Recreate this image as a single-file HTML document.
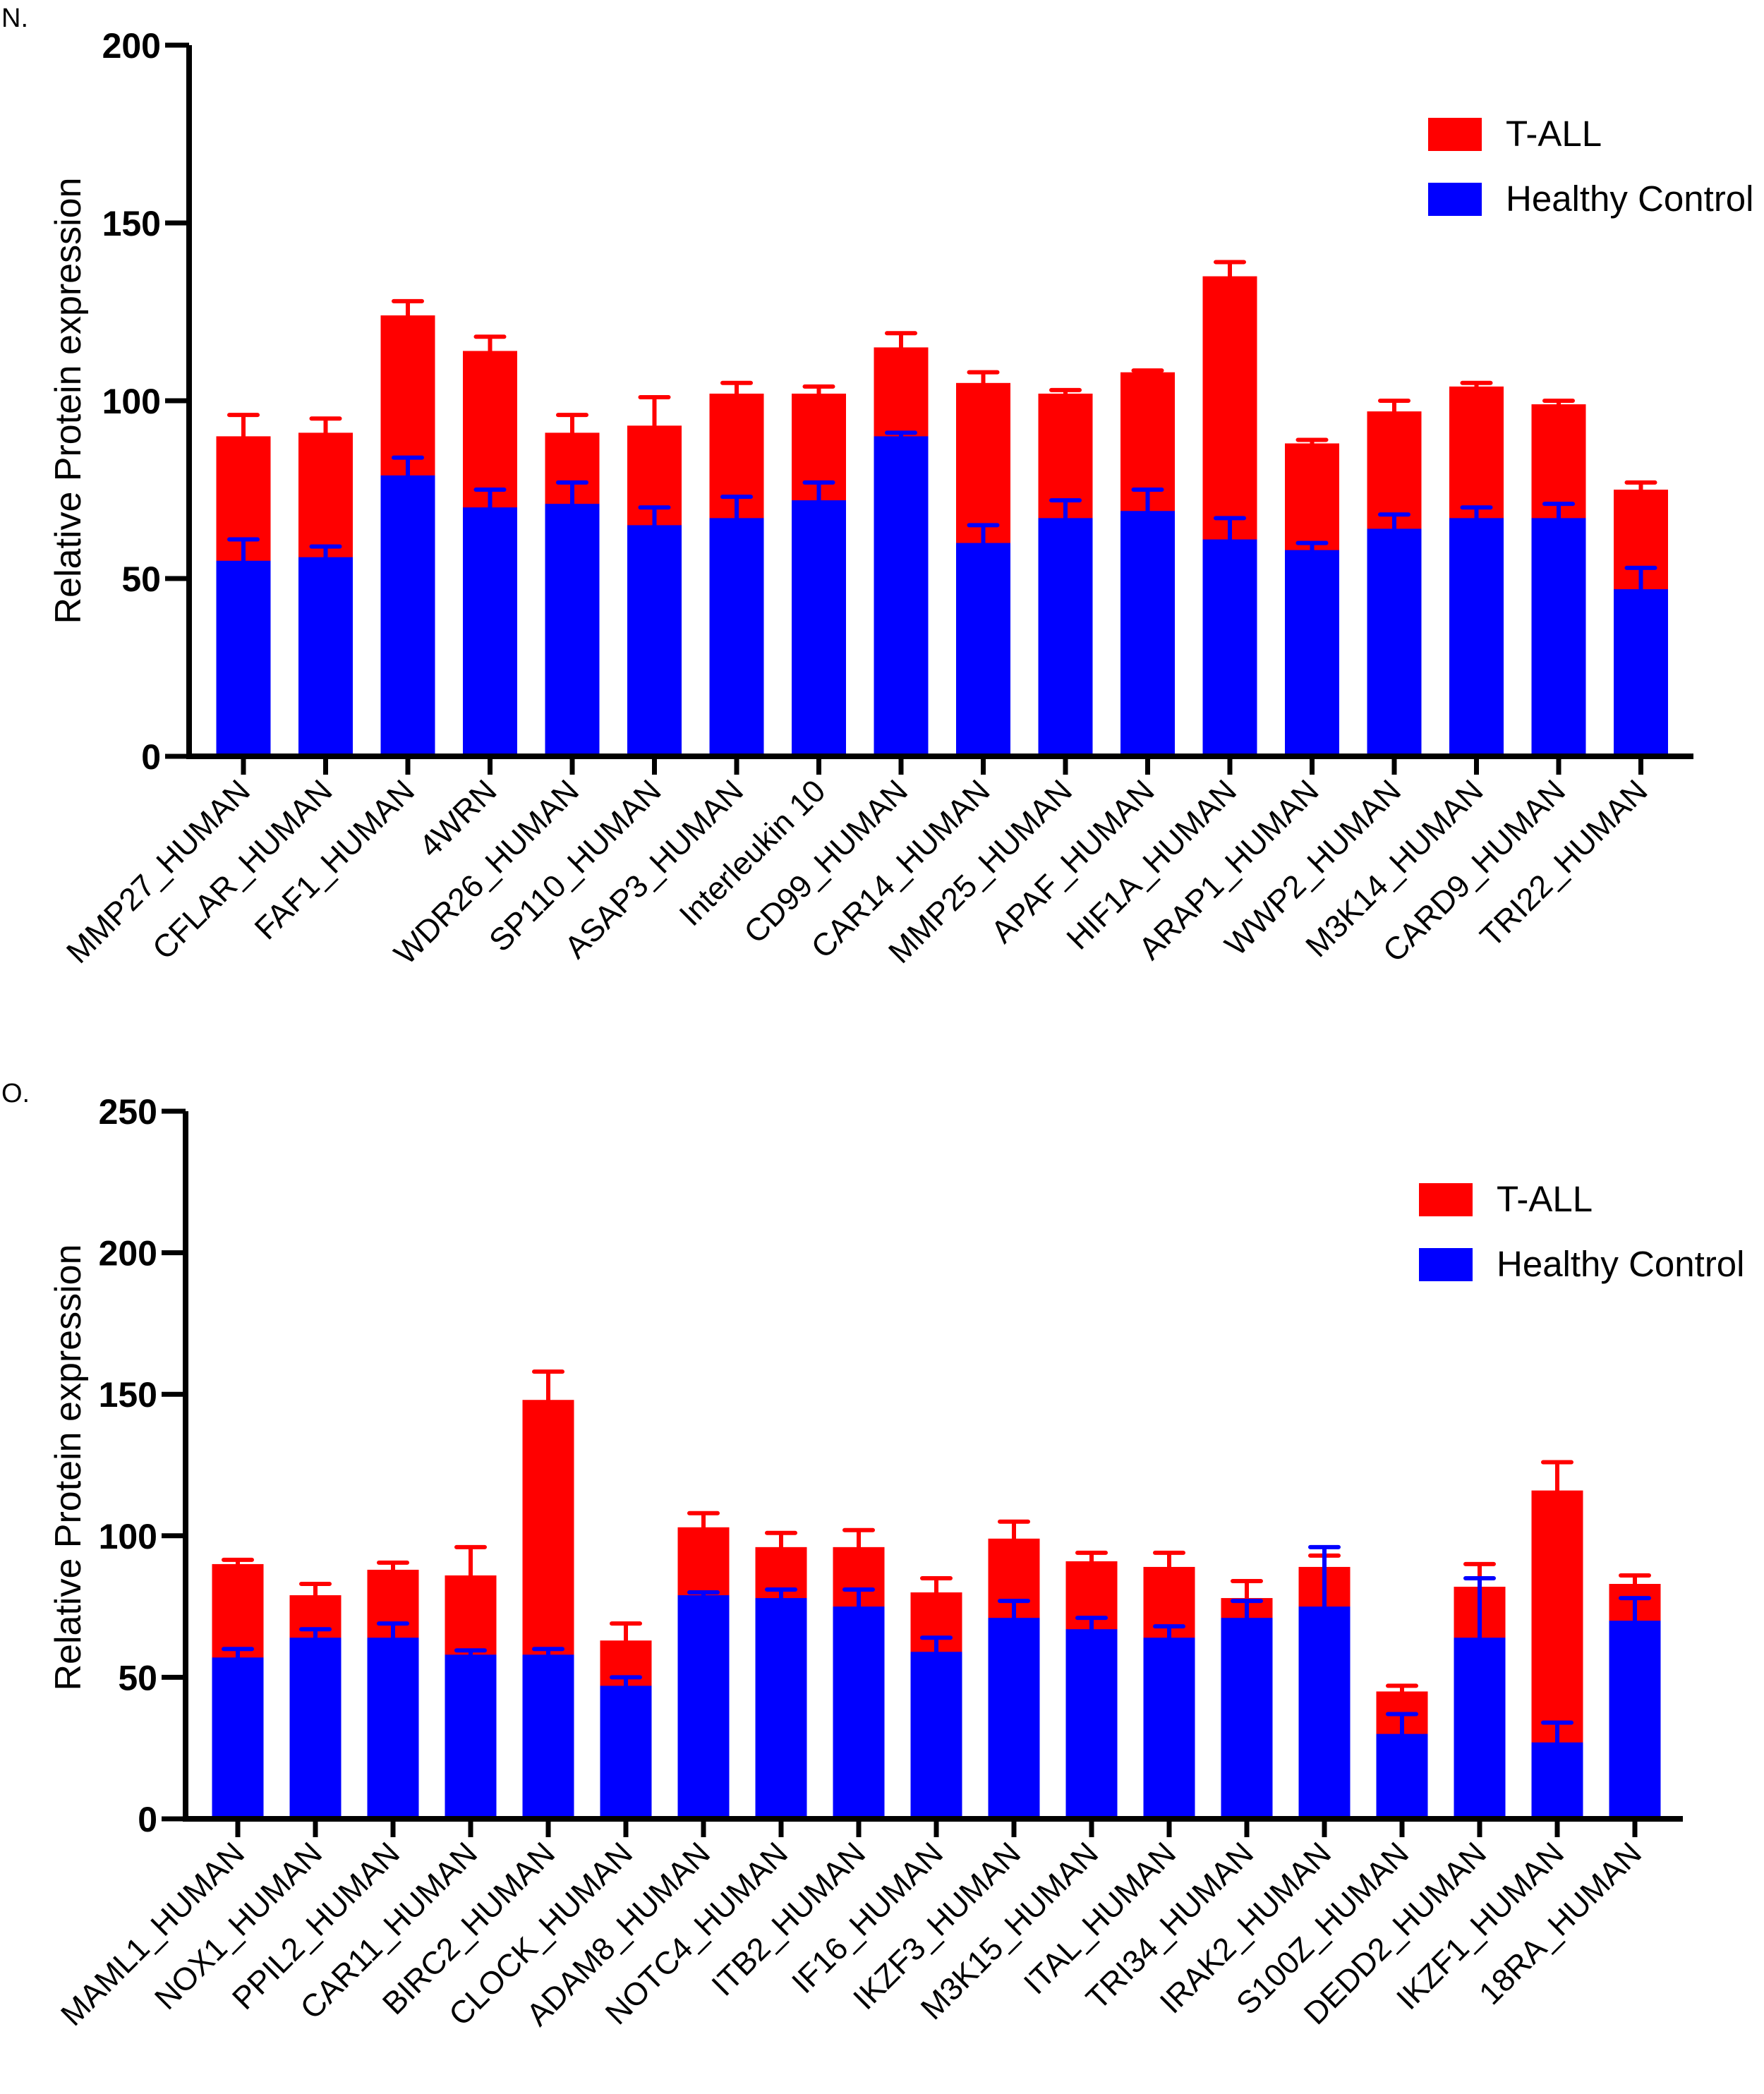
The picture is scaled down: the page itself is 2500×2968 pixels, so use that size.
<!DOCTYPE html>
<html><head><meta charset="utf-8"><style>
html,body{margin:0;padding:0;background:#fff;}
svg{display:block;font-family:"Liberation Sans",Arial,sans-serif;}
</style></head><body>
<svg id="chart" width="2500" height="2968" viewBox="0 0 2500 2968"></svg>
<script>
const catsN = ["MMP27_HUMAN","CFLAR_HUMAN","FAF1_HUMAN","4WRN","WDR26_HUMAN","SP110_HUMAN","ASAP3_HUMAN","Interleukin 10","CD99_HUMAN","CAR14_HUMAN","MMP25_HUMAN","APAF_HUMAN","HIF1A_HUMAN","ARAP1_HUMAN","WWP2_HUMAN","M3K14_HUMAN","CARD9_HUMAN","TRI22_HUMAN"];
const totalN = [90,91,124,114,91,93,102,102,115,105,102,108,135,88,97,104,99,75];
const totalErrN = [96,95,128,118,96,101,105,104,119,108,103,108.5,139,89,100,105,100,77];
const healthyN = [55,56,79,70,71,65,67,72,90,60,67,69,61,58,64,67,67,47];
const healthyErrN = [61,59,84,75,77,70,73,77,91,65,72,75,67,60,68,70,71,53];
const ticksN = [0,50,100,150,200];

const catsO = ["MAML1_HUMAN","NOX1_HUMAN","PPIL2_HUMAN","CAR11_HUMAN","BIRC2_HUMAN","CLOCK_HUMAN","ADAM8_HUMAN","NOTC4_HUMAN","ITB2_HUMAN","IF16_HUMAN","IKZF3_HUMAN","M3K15_HUMAN","ITAL_HUMAN","TRI34_HUMAN","IRAK2_HUMAN","S100Z_HUMAN","DEDD2_HUMAN","IKZF1_HUMAN","18RA_HUMAN"];
const totalO = [90,79,88,86,148,63,103,96,96,80,99,91,89,78,89,45,82,116,83];
const totalErrO = [91.5,83,90.5,96,158,69,108,101,102,85,105,94,94,84,93,47,90,126,86];
const healthyO = [57,64,64,58,58,47,79,78,75,59,71,67,64,71,75,30,64,27,70];
const healthyErrO = [60,67,69,59.5,60,50,80,81,81,64,77,71,68,77,96,37,85,34,78];
const ticksO = [0,50,100,150,200,250];

const NS="http://www.w3.org/2000/svg";
const svg=document.getElementById('chart');
function mk(tag,attrs,parent){const e=document.createElementNS(NS,tag);for(const k in attrs)e.setAttribute(k,attrs[k]);(parent||svg).appendChild(e);return e;}

function drawChart(cfg){
  const g=mk('g',{});
  
  
  const y=v=>cfg.y0-(v/cfg.ymax)*(cfg.y0-cfg.ytop);
  const x=i=>cfg.x0+i*cfg.step;
  const bw=cfg.bw;
  cfg.cats.forEach((c,i)=>{
    const cx=x(i);
    const r=mk('rect',{x:cx-bw/2,y:y(cfg.total[i]),width:bw,height:y(0)-y(cfg.total[i]),fill:'#ff0000'},g);
    
    
    const b=mk('rect',{x:cx-bw/2,y:y(cfg.healthy[i]),width:bw,height:y(0)-y(cfg.healthy[i]),fill:'#0000ff'},g);
    
    
    const e1=mk('path',{d:`M${cx} ${y(cfg.total[i])}V${y(cfg.totalErr[i])}M${cx-20} ${y(cfg.totalErr[i])}H${cx+20}`,stroke:'#ff0000','stroke-width':6,fill:'none','stroke-linecap':'round'},g);
    
    
    const e2=mk('path',{d:`M${cx} ${y(cfg.healthy[i])}V${y(cfg.healthyErr[i])}M${cx-20} ${y(cfg.healthyErr[i])}H${cx+20}`,stroke:'#0000ff','stroke-width':6,fill:'none','stroke-linecap':'round'},g);
    
    
    const t=mk('line',{x1:cx,x2:cx,y1:y(0),y2:y(0)+26,stroke:'#000','stroke-width':7},g);
    
    
    const lx=cx+12, ly=y(0)+52;
    const lab=mk('text',{x:lx,y:ly,'text-anchor':'end','font-size':45,transform:`rotate(-45 ${lx} ${ly})`,fill:'#000'},g);
    lab.textContent=c;
    
    
  });
  const ax=mk('path',{d:`M${cfg.ax} ${cfg.ytop}V${y(0)}H${cfg.xend}`,stroke:'#000','stroke-width':8,fill:'none'},g);
  
  
  cfg.ticks.forEach(v=>{
    const tk=mk('line',{x1:cfg.ax-34,x2:cfg.ax,y1:y(v),y2:y(v),stroke:'#000','stroke-width':7},g);
    
    
    const tl=mk('text',{x:cfg.ax-40,y:y(v)+18,'text-anchor':'end','font-size':50,'font-weight':'bold'},g);
    tl.textContent=v;
    
    
  });
  const yt=mk('text',{x:0,y:0,'text-anchor':'middle','font-size':52,transform:`translate(114 ${cfg.ytitleY}) rotate(-90)`},g);
  yt.textContent='Relative Protein expression';
  
  
  const pl=mk('text',{x:2,y:cfg.panelY,'font-size':38},g);
  pl.textContent=cfg.panel;
  
  
  [['#ff0000','T-ALL',cfg.legY],['#0000ff','Healthy Control',cfg.legY+92]].forEach(([col,txt,ly])=>{
    const lr=mk('rect',{x:cfg.legX,y:ly,width:76,height:47,fill:col},g);
    
    
    const lt=mk('text',{x:cfg.legX+110,y:ly+40,'font-size':51},g);
    lt.textContent=txt;
    
    
  });
}
drawChart({name:'chart-n',cats:catsN,total:totalN,totalErr:totalErrN,healthy:healthyN,healthyErr:healthyErrN,ticks:ticksN,ymax:200,y0:1072,ytop:64,x0:345,step:116.5,bw:77,ax:268,xend:2400,ytitleY:568,panel:'N.',panelY:38,legX:2024,legY:167});
drawChart({name:'chart-o',cats:catsO,total:totalO,totalErr:totalErrO,healthy:healthyO,healthyErr:healthyErrO,ticks:ticksO,ymax:250,y0:2578,ytop:1575,x0:337,step:110,bw:73,ax:263,xend:2385,ytitleY:2080,panel:'O.',panelY:1562,legX:2011,legY:1677});
</script>
</body></html>
